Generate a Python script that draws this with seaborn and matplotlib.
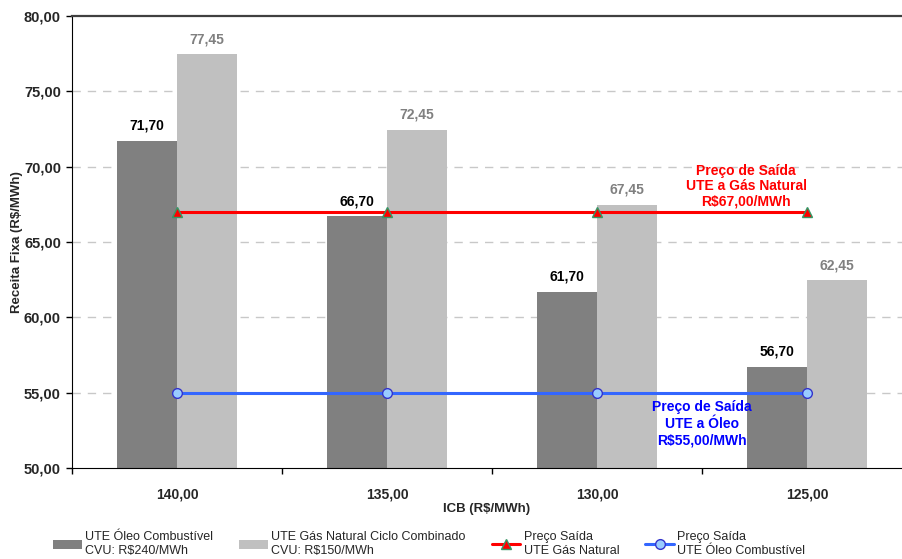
import pandas as pd
import numpy as np
import matplotlib
matplotlib.use("Agg")
import matplotlib.pyplot as plt
import seaborn as sns
from matplotlib.ticker import FixedLocator

icb = ['140,00', '135,00', '130,00', '125,00']
oleo = [71.70, 66.70, 61.70, 56.70]
gas = [77.45, 72.45, 67.45, 62.45]
preco_gas = [67.00, 67.00, 67.00, 67.00]
preco_oleo = [55.00, 55.00, 55.00, 55.00]

lbl_oleo = 'UTE Óleo Combustível\nCVU: R$240/MWh'
lbl_gas = 'UTE Gás Natural Ciclo Combinado\nCVU: R$150/MWh'
lbl_pgas = 'Preço Saída\nUTE Gás Natural'
lbl_poleo = 'Preço Saída\nUTE Óleo Combustível'

df = pd.DataFrame({
    'ICB': icb * 2,
    'Receita': oleo + gas,
    'Tipo': [lbl_oleo] * 4 + [lbl_gas] * 4,
})

sns.set_style('white')
plt.rcParams['font.family'] = ['Liberation Sans', 'DejaVu Sans']

fig = plt.figure(figsize=(9.02, 5.59), dpi=100)
ax = fig.add_axes([72 / 902, 1 - 468 / 559, 1 - 72 / 902, (468 - 16) / 559])

sns.barplot(data=df, x='ICB', y='Receita', hue='Tipo', order=icb,
            palette=['#808080', '#C0C0C0'], width=0.5714, gap=0,
            saturation=1, edgecolor='none', linewidth=0, ax=ax, zorder=2)

xpos = np.arange(len(icb))
sns.lineplot(x=xpos, y=preco_gas, color='#FF0000', linewidth=2.2, marker='^',
             markersize=7, markerfacecolor='#FF0000', markeredgecolor='#339966',
             markeredgewidth=1, label=lbl_pgas, ax=ax, zorder=4)
sns.lineplot(x=xpos, y=preco_oleo, color='#3366FF', linewidth=2.2, marker='o',
             markersize=7, markerfacecolor='#99CCFF', markeredgecolor='#3333CC',
             markeredgewidth=1, label=lbl_poleo, ax=ax, zorder=4)

# value labels
for cont, col in zip(ax.containers, ['black', '#808080']):
    ax.bar_label(cont, labels=[f'{v:.2f}'.replace('.', ',') for v in cont.datavalues],
                 padding=6, color=col, fontsize=10, fontweight='bold')

ax.text(2.71, 67.22, 'Preço de Saída\nUTE a Gás Natural\nR$67,00/MWh', color='#FF0000',
        ha='center', va='bottom', fontsize=10, fontweight='bold', linespacing=1.1)
ax.text(2.5, 54.53, 'Preço de Saída\nUTE a Óleo\nR$55,00/MWh', color='#0000FF',
        ha='center', va='top', fontsize=10, fontweight='bold', linespacing=1.28)

ax.set_ylim(50, 80)
ax.set_xlim(-0.5, 3.452)
ax.set_yticks(np.arange(50, 81, 5))
ax.set_yticklabels([f'{v:.2f}'.replace('.', ',') for v in np.arange(50, 81, 5)],
                   fontsize=10.5, fontweight='bold')
ax.set_xticks(xpos)
ax.set_xticklabels(icb, fontsize=10, fontweight='bold')
ax.xaxis.set_minor_locator(FixedLocator([-0.5, 0.5, 1.5, 2.5, 3.5]))
ax.tick_params(axis='x', which='major', length=0, pad=14)
ax.tick_params(axis='x', which='minor', length=4, width=1, color='black', bottom=True)
ax.tick_params(axis='y', length=4, width=1, color='black', left=True, pad=4)

for y in range(55, 80, 5):
    ax.axhline(y, color='#C8C8C8', linestyle=(0, (6, 5)), linewidth=1, zorder=1)

ax.set_xlabel('ICB (R$/MWh)', fontsize=9.5, fontweight='bold')
ax.set_ylabel('Receita Fixa (R$/MWh)', fontsize=9.5, fontweight='bold')
ax.xaxis.set_label_coords(0.5, -0.078)
ax.yaxis.set_label_coords(-0.059, 0.5)

ax.spines['right'].set_visible(False)
ax.spines['left'].set_color('black')
ax.spines['bottom'].set_color('black')
ax.spines['top'].set_color('#404040')
ax.spines['top'].set_linewidth(1.6)

handles, labels = ax.get_legend_handles_labels()
ax.legend_.remove()
fig.legend(handles, labels, loc='lower left', bbox_to_anchor=(53 / 902, 2 / 559),
           ncol=4, frameon=False, fontsize=9, handlelength=2.3, handleheight=0.7,
           handletextpad=0.25, columnspacing=2.1, borderpad=0, borderaxespad=0)

fig.savefig('out.png', dpi=100)
